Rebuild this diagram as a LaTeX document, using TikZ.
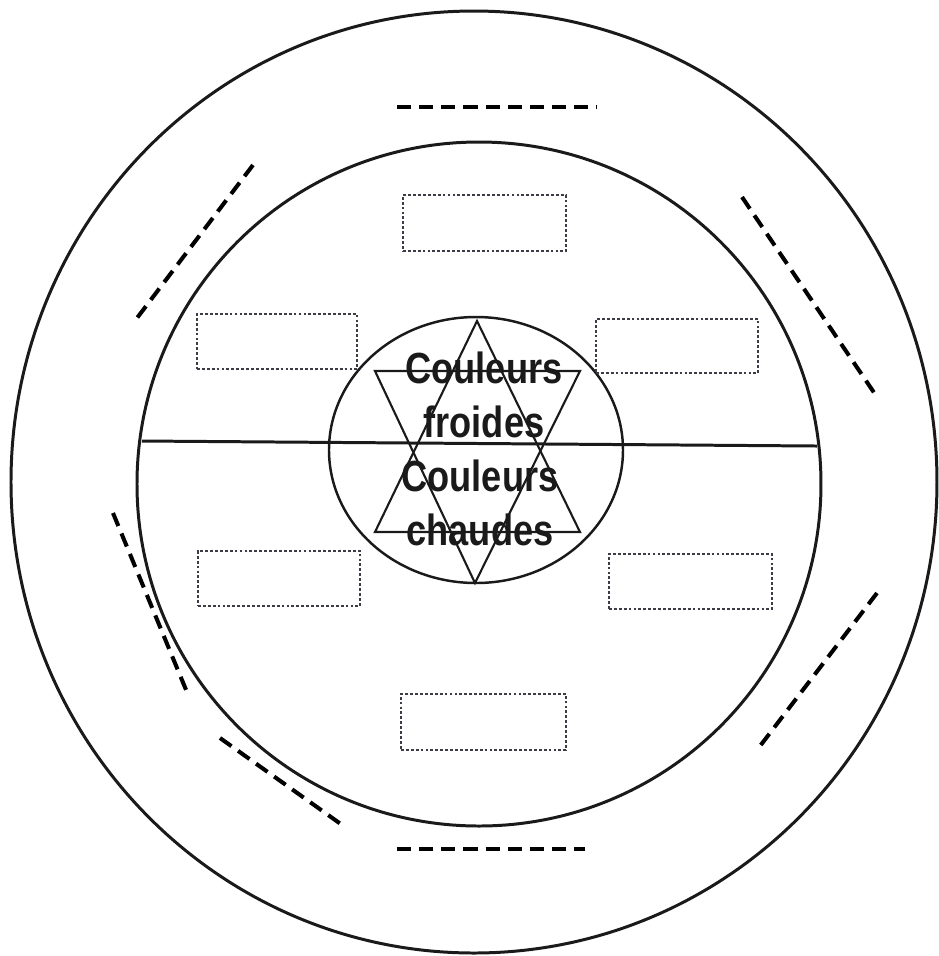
\documentclass[tikz,border=0pt]{standalone}
\usepackage{fontspec}
\newfontfamily\labelfont{Liberation Sans}
\usetikzlibrary{positioning}
\definecolor{Ink}{HTML}{1A1A1A}
\definecolor{Dot}{HTML}{3C3C46}
\tikzset{
  ring/.style={draw=Ink,line width=0.85pt},
  cutline/.style={draw=black,line width=1.15pt,dash pattern=on 4pt off 2.3pt},
  blankbox/.style={draw=Dot,dash pattern=on 0.8pt off 0.6pt,line width=0.75pt,inner sep=0pt},
  starline/.style={draw=Ink,line width=0.6pt},
  colortext/.style={font=\labelfont\bfseries\fontsize{12.4}{15.3}\selectfont,align=center,xscale=0.83,transform shape,inner sep=0pt,text=Ink}
}
\begin{document}
\begin{tikzpicture}[x=0.01cm,y=-0.01cm]
  \useasboundingbox (0,0) rectangle (939,956);
  % rings
  \draw[ring] (474,482) ellipse [x radius=463,y radius=471];
  \draw[ring] (479,484) circle [radius=342];
  \coordinate (midl) at (142,441);
  \coordinate (midr) at (817,446);
  \draw[ring] (midl) -- (midr);
  % centre
  \draw[ring,line width=0.7pt] (476,450) ellipse [x radius=147,y radius=133];
  \coordinate (up) at (477,321);
  \coordinate (upl) at (375,532);
  \coordinate (upr) at (580,532);
  \coordinate (dn) at (475,583);
  \coordinate (dnl) at (375,371);
  \coordinate (dnr) at (580,371);
  \draw[starline] (up) -- (upl) -- (upr) -- cycle;
  \draw[starline] (dn) -- (dnl) -- (dnr) -- cycle;
  \node[colortext] (cold) at (484,395) {Couleurs\\froides};
  \node[colortext] (warm) at (480,503) {Couleurs\\chaudes};
  % empty boxes
  \node[blankbox,minimum width=1.63cm,minimum height=.56cm] (btop) at (484.5,223) {};
  \node[blankbox,minimum width=1.60cm,minimum height=.55cm] (bul) at (277,341.5) {};
  \node[blankbox,minimum width=1.62cm,minimum height=.54cm] (bur) at (677,346) {};
  \node[blankbox,minimum width=1.62cm,minimum height=.55cm] (bll) at (279,578.5) {};
  \node[blankbox,minimum width=1.63cm,minimum height=.55cm] (blr) at (690.5,581.5) {};
  \node[blankbox,minimum width=1.65cm,minimum height=.56cm] (bbot) at (483.5,722) {};
  % dashed answer lines
  \coordinate (t1) at (397,107);  \coordinate (t2) at (597,107);
  \coordinate (b1) at (397,849);  \coordinate (b2) at (585,849);
  \coordinate (ul1) at (253,165); \coordinate (ul2) at (134,322);
  \coordinate (ur1) at (742,197); \coordinate (ur2) at (877,397);
  \coordinate (ll1) at (113,513); \coordinate (ll2) at (189,697);
  \coordinate (lb1) at (220,738); \coordinate (lb2) at (345,827);
  \coordinate (lr1) at (877,593); \coordinate (lr2) at (757,750);
  \foreach \a/\b in {t1/t2,b1/b2,ul1/ul2,ur1/ur2,ll1/ll2,lb1/lb2,lr1/lr2}
    \draw[cutline] (\a) -- (\b);
\end{tikzpicture}
\end{document}
